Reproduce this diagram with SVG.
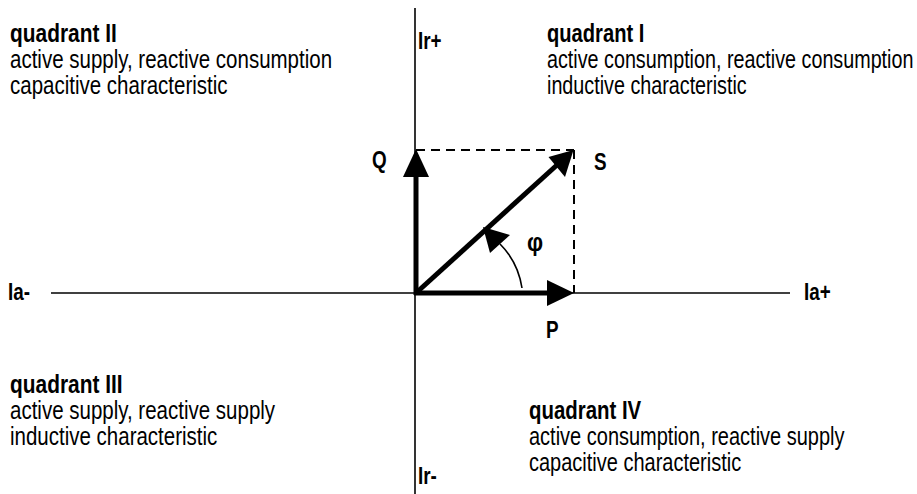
<svg xmlns="http://www.w3.org/2000/svg" width="917" height="494" viewBox="0 0 917 494">
<style>
text{font-family:"Liberation Sans",Arial,sans-serif;font-size:25px;fill:#000}
.b{font-weight:bold;font-size:25.5px}
.l{font-weight:bold;font-size:23px}
.ax{stroke:#000;stroke-width:1.6;fill:none}
.vec{stroke:#000;stroke-width:5;fill:none}
.dash{stroke:#000;stroke-width:2;stroke-dasharray:9 6;fill:none}
.head{fill:#000;stroke:none}
</style>
<rect width="917" height="494" fill="#fff"/>
<g id="connectors">
<line class="ax" x1="415" y1="8" x2="415" y2="494"/>
<line class="ax" x1="51" y1="293" x2="790" y2="293"/>
<line class="dash" x1="416" y1="150" x2="574" y2="150"/>
<line class="dash" x1="574" y1="150" x2="574" y2="293"/>
<g id="Q-vector"><line class="vec" x1="416" y1="295" x2="416" y2="172"/><polygon class="head" points="416,149 403,177 429,177"/></g>
<g id="P-vector"><line class="vec" x1="414" y1="293" x2="550" y2="293"/><polygon class="head" points="574,293 547,280 547,306"/></g>
<g id="S-vector"><line class="vec" x1="416" y1="293" x2="557" y2="165"/><polygon class="head" points="573.5,150 548.5,157 565,177"/></g>
<g id="phi-arc"><path class="ax" d="M522,288 Q518,262 500,244"/><polygon class="head" points="483,227 490,253 510,235"/></g>
</g>
<g id="quadrant-II" transform="translate(10,0) scale(0.82,1)">
<text class="b" x="0" y="42">quadrant II</text>
<text x="0" y="68">active supply, reactive consumption</text>
<text x="0" y="94">capacitive characteristic</text>
</g>
<g id="quadrant-I" transform="translate(547,0) scale(0.79,1)">
<text class="b" x="0" y="42">quadrant I</text>
<text x="0" y="68">active consumption, reactive consumption</text>
<text x="0" y="94">inductive characteristic</text>
</g>
<g id="quadrant-III" transform="translate(10,0) scale(0.82,1)">
<text class="b" x="0" y="393">quadrant III</text>
<text x="0" y="419">active supply, reactive supply</text>
<text x="0" y="445">inductive characteristic</text>
</g>
<g id="quadrant-IV" transform="translate(529,0) scale(0.80,1)">
<text class="b" x="0" y="419">quadrant IV</text>
<text x="0" y="445">active consumption, reactive supply</text>
<text x="0" y="471">capacitive characteristic</text>
</g>
<g id="label-Ir-plus" transform="translate(418,0) scale(0.82,1)"><text class="l" x="0" y="49">Ir+</text></g>
<g id="label-Ir-minus" transform="translate(418,0) scale(0.82,1)"><text class="l" x="0" y="484">Ir-</text></g>
<g id="label-Ia-minus" transform="translate(8,0) scale(0.82,1)"><text class="l" x="0" y="300">Ia-</text></g>
<g id="label-Ia-plus" transform="translate(804,0) scale(0.82,1)"><text class="l" x="0" y="300">Ia+</text></g>
<g id="label-Q" transform="translate(372,0) scale(0.82,1)"><text class="l" x="0" y="168">Q</text></g>
<g id="label-S" transform="translate(594,0) scale(0.82,1)"><text class="l" x="0" y="170">S</text></g>
<g id="label-phi" transform="translate(527,0) scale(0.9,1)"><text class="l" x="0" y="251" style="font-size:25px">φ</text></g>
<g id="label-P" transform="translate(546,0) scale(0.82,1)"><text class="l" x="0" y="338">P</text></g>
</svg>
